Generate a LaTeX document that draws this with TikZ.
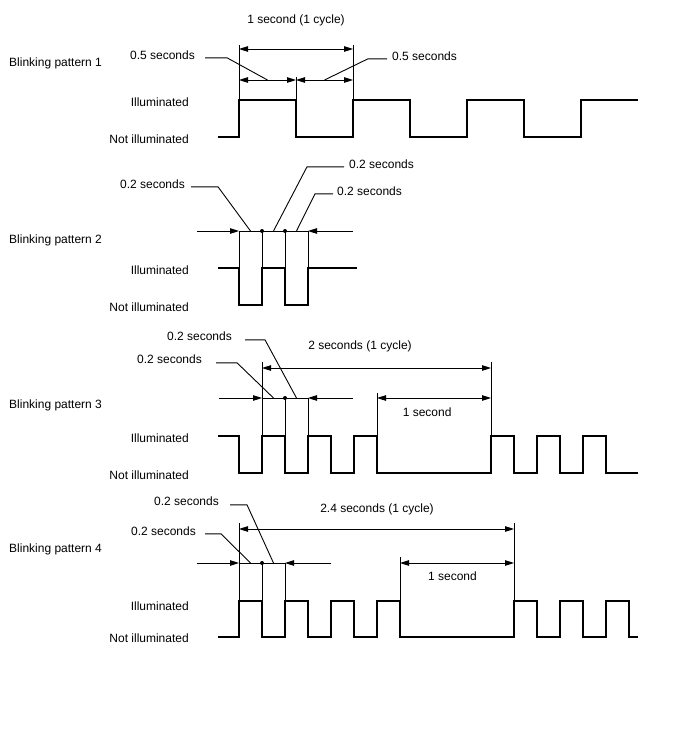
\documentclass[tikz,border=0pt]{standalone}
\usepackage{fontspec}
\setmainfont{Liberation Sans}
\usetikzlibrary{calc,arrows.meta}

\tikzset{
    txt/.style={font=\fontsize{12}{14}\selectfont, inner sep=0pt, yshift=-1.3pt},
    fine/.style={line width=0.9pt},
    wave/.style={line width=2.9pt},
    >={Triangle[length=9pt,width=5.5pt]},
}

\begin{document}
\begin{tikzpicture}[x=1pt,y=-1pt]
    \useasboundingbox (0,0) rectangle (688,755);
    % left hand labels
    \foreach \n/\y/\hi/\lo in {1/63/103/140, 2/240/271/308, 3/405/439/476, 4/549/607/639} {
        \node[txt,anchor=mid west] (bp\n) at (9,\y) {Blinking pattern \n};
        \node[txt,anchor=mid east] (il\n) at (189,\hi) {Illuminated};
        \node[txt,anchor=mid east] (ni\n) at (189,\lo) {Not illuminated};
    }

    % pattern 1
    \coordinate (A1) at (239,100);
    \coordinate (B1) at (296,100);
    \coordinate (C1) at (353,100);
    \draw[wave] (218,137) -| (A1) -| (296,137) -| (C1) -| (410,137) -| (467,100) -| (524,137) -| (581,100) -- (638,100);
    \draw[fine] (A1) -- +(0,-55);
    \draw[fine] (C1) -- +(0,-55);
    \draw[fine] (B1) -- +(0,-23);
    \draw[fine,<->] ($(A1)+(0,-51)$) -- ($(C1)+(0,-51)$);
    \draw[fine,<->] ($(A1)+(0,-20)$) -- ($(B1)+(0,-20)$);
    \draw[fine,<->] ($(B1)+(0,-20)$) -- ($(C1)+(0,-20)$);
    \node[txt] (t1) at ($(A1)!0.5!(C1)+(0,-81)$) {1 second (1 cycle)};
    \node[txt,anchor=mid east] (h1a) at (195,56) {0.5 seconds};
    \node[txt,anchor=mid west] (h1b) at (392,57) {0.5 seconds};
    \draw[fine] ([xshift=10pt,yshift=-0.5pt]h1a.mid east) -- ++(22,0) -- ($(A1)!0.5!(B1)+(0,-20)$);
    \draw[fine] ([xshift=-5pt,yshift=-0.5pt]h1b.mid west) -- ++(-19,0) -- ($(B1)!0.5!(C1)+(0,-20)$);

    % pattern 2
    \coordinate (A2) at (239,268);
    \coordinate (B2) at (262,268);
    \coordinate (C2) at (285,268);
    \coordinate (D2) at (308,268);
    \draw[wave] (218,268) -| (239,305) -| (B2) -| (285,305) -| (D2) -- (357,268);
    \foreach \p in {A2,B2,C2,D2}
        \draw[fine] (\p) -- +(0,-37);
    \draw[fine,->] ($(A2)+(-42,-37)$) -- ($(A2)+(0,-37)$);
    \draw[fine] ($(A2)+(0,-37)$) -- ($(D2)+(0,-37)$);
    \draw[fine,->] ($(D2)+(45,-37)$) -- ($(D2)+(0,-37)$);
    \fill ($(B2)+(0,-37)$) circle[radius=2pt];
    \fill ($(C2)+(0,-37)$) circle[radius=2pt];
    \node[txt,anchor=mid east] (s2a) at (185,185) {0.2 seconds};
    \node[txt,anchor=mid west] (s2b) at (349,165) {0.2 seconds};
    \node[txt,anchor=mid west] (s2c) at (337,192) {0.2 seconds};
    \draw[fine] ([xshift=6pt,yshift=-0.5pt]s2a.mid east) -- ++(27,0) -- ($(A2)!0.5!(B2)+(0,-37)$);
    \draw[fine] ([xshift=-5pt,yshift=-0.5pt]s2b.mid west) -- ++(-37,0) -- ($(B2)!0.5!(C2)+(0,-37)$);
    \draw[fine] ([xshift=-4pt,yshift=-0.5pt]s2c.mid west) -- ++(-18,0) -- ($(C2)!0.5!(D2)+(0,-37)$);

    % pattern 3
    \coordinate (A3) at (262,436);
    \coordinate (B3) at (285,436);
    \coordinate (C3) at (308,436);
    \coordinate (D3) at (377,436);
    \coordinate (E3) at (491,436);
    \draw[wave] (218,436) -| (239,473) -| (A3) -| (285,473) -| (C3) -| (331,473) -| (354,436) -| (377,473) -| (E3) -| (514,473) -| (537,436) -| (560,473) -| (583,436) -| (606,473) -- (638,473);
    \draw[fine] (A3) -- +(0,-74);
    \draw[fine] (E3) -- +(0,-74);
    \draw[fine] (B3) -- +(0,-38);
    \draw[fine] (C3) -- +(0,-38);
    \draw[fine] (D3) -- +(0,-43);
    \draw[fine,<->] ($(A3)+(0,-68)$) -- ($(E3)+(0,-68)$);
    \draw[fine,->] ($(A3)+(-43,-38)$) -- ($(A3)+(0,-38)$);
    \draw[fine] ($(A3)+(0,-38)$) -- ($(C3)+(0,-38)$);
    \draw[fine,->] ($(C3)+(45,-38)$) -- ($(C3)+(0,-38)$);
    \fill ($(B3)+(0,-38)$) circle[radius=2pt];
    \draw[fine,<->] ($(D3)+(0,-38)$) -- ($(E3)+(0,-38)$);
    \node[txt] (o3) at ($(D3)!0.44!(E3)+(0,-25)$) {1 second};
    \node[txt] (t3) at (360,345) {2 seconds (1 cycle)};
    \node[txt,anchor=mid east] (s3a) at (232,337) {0.2 seconds};
    \node[txt,anchor=mid east] (s3b) at (202,360) {0.2 seconds};
    \draw[fine] ([xshift=13pt,yshift=-1.5pt]s3a.mid east) -- ++(20,0) -- ($(B3)!0.5!(C3)+(0,-38)$);
    \draw[fine] ([xshift=14pt,yshift=-1.5pt]s3b.mid east) -- ++(21,0) -- ($(A3)!0.5!(B3)+(0,-38)$);

    % pattern 4
    \coordinate (A4) at (239,601);
    \coordinate (B4) at (262,601);
    \coordinate (C4) at (285,601);
    \coordinate (D4) at (400,601);
    \coordinate (E4) at (514,601);
    \draw[wave] (218,637) -| (A4) -| (262,637) -| (C4) -| (308,637) -| (331,601) -| (354,637) -| (377,601) -| (400,637) -| (E4) -| (537,637) -| (560,601) -| (583,637) -| (606,601) -| (629,637) -- (638,637);
    \draw[fine] (A4) -- +(0,-78);
    \draw[fine] (E4) -- +(0,-78);
    \draw[fine] (B4) -- +(0,-38);
    \draw[fine] (C4) -- +(0,-38);
    \draw[fine] (D4) -- +(0,-44);
    \draw[fine,<->] ($(A4)+(0,-72)$) -- ($(E4)+(0,-72)$);
    \draw[fine,->] ($(A4)+(-42,-38)$) -- ($(A4)+(0,-38)$);
    \draw[fine] ($(A4)+(0,-38)$) -- ($(C4)+(0,-38)$);
    \draw[fine,->] ($(C4)+(46,-38)$) -- ($(C4)+(0,-38)$);
    \fill ($(B4)+(0,-38)$) circle[radius=2pt];
    \draw[fine,<->] ($(D4)+(0,-38)$) -- ($(E4)+(0,-38)$);
    \node[txt] (o4) at ($(D4)!0.46!(E4)+(0,-26)$) {1 second};
    \node[txt] (t4) at (377,508) {2.4 seconds (1 cycle)};
    \node[txt,anchor=mid east] (s4a) at (219,502) {0.2 seconds};
    \node[txt,anchor=mid east] (s4b) at (196,532) {0.2 seconds};
    \draw[fine] ([xshift=11pt,yshift=-1.5pt]s4a.mid east) -- ++(17,0) -- ($(B4)!0.5!(C4)+(0,-38)$);
    \draw[fine] ([xshift=9pt,yshift=-0.5pt]s4b.mid east) -- ++(16,0) -- ($(A4)!0.5!(B4)+(0,-38)$);
\end{tikzpicture}
\end{document}
